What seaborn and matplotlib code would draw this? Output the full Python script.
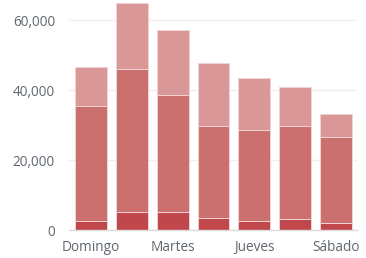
import matplotlib
matplotlib.use("Agg")
import matplotlib.pyplot as plt
import seaborn as sns
import pandas as pd
import numpy as np

# Datos (segmentos apilados por día)
dias = ["Domingo", "Lunes", "Martes", "Miércoles", "Jueves", "Viernes", "Sábado"]
inferior = [2600, 5100, 5100, 3300, 2600, 3100, 2100]
medio = [32900, 40900, 33600, 26500, 26100, 26600, 24600]
superior = [11200, 19000, 18600, 18000, 14800, 11200, 6400]

colores = ["#c0474b", "#cc6f6f", "#d99797"]

sns.set_style("white")
plt.rcParams['font.family'] = ['Open Sans', 'DejaVu Sans']

df = pd.DataFrame({"dia": dias, "inferior": inferior, "medio": medio, "superior": superior})
df["c1"] = df["inferior"]
df["c2"] = df["c1"] + df["medio"]
df["c3"] = df["c2"] + df["superior"]

fig = plt.figure(figsize=(3.66, 2.58), dpi=100)
ax = fig.add_axes([0.1885, 0.1085, 0.787, 0.8837])

# dibujar de la capa más alta a la más baja
for col, color in zip(["c3", "c2", "c1"], colores[::-1]):
    sns.barplot(data=df, x="dia", y=col, order=dias, color=color, width=0.78,
                edgecolor="#f0d4d4", linewidth=0.7, saturation=1, ax=ax, zorder=2)

ax.set_xlim(-0.54, 6.52)
ax.set_ylim(0, 65200)
ax.set_yticks([0, 20000, 40000, 60000])
ax.set_yticklabels(["0", "20,000", "40,000", "60,000"])
ax.set_xticks([0, 2, 4, 6])
ax.set_xticklabels([dias[i] for i in [0, 2, 4, 6]])
ax.set_xlabel("")
ax.set_ylabel("")

ax.grid(axis="y", color="#efefef", linewidth=1, zorder=0)
ax.set_axisbelow(True)
for s in ["left", "right", "top"]:
    ax.spines[s].set_visible(False)
ax.spines["bottom"].set_color("#dddddd")
ax.spines["bottom"].set_linewidth(1)

ax.tick_params(axis="y", length=0, pad=10, labelsize=9.8, labelcolor="#5f6670")
ax.tick_params(axis="x", length=4, width=0.8, color="#dddddd", pad=3,
               labelsize=9.8, labelcolor="#5f6670")

fig.savefig("out.png", dpi=100)
